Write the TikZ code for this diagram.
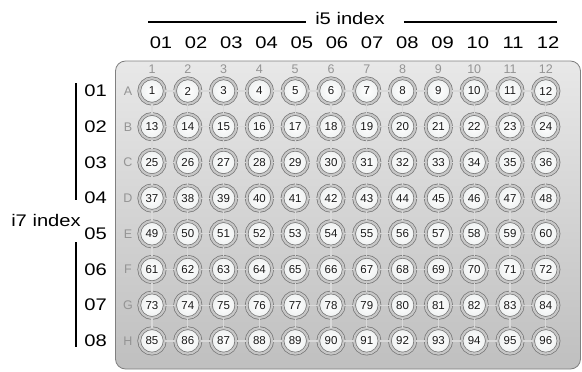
\documentclass[tikz,border=0pt]{standalone}
\usepackage{fontspec}
\setmainfont{Liberation Sans}
\newfontfamily\lblfont[FakeStretch=1.2]{Liberation Sans}
\usetikzlibrary{positioning,calc}

\begin{document}
\begin{tikzpicture}[x=1pt, y=-1pt,
  hdr/.style={font=\lblfont\fontsize{16.8}{18}\selectfont, inner sep=1pt},
  pl/.style={font=\fontsize{12.5}{12}\selectfont, text=black!42, inner sep=0pt},
  well/.style={circle, minimum size=25.5pt, inner sep=0pt, draw=black!55, double=black!22, double distance=2.2pt, line width=0.7pt, inner color=white, outer color=cyan!14!black!7, font=\fontsize{11.5}{12}\selectfont, text=black!90},
  link/.style={draw=white!85!black, line width=1.2pt},
  bar/.style={line width=1.1pt}
]
\useasboundingbox (0,0) rectangle (582,372);

% plate
\node[draw=black!50, line width=0.8pt, rounded corners=10pt, top color=black!9, bottom color=black!25, minimum width=465pt, minimum height=308pt, inner sep=0pt] (plate) at (348,215) {};

% i5 index
\node[hdr, inner sep=0pt] (i5) at (350,18.5) {i5 index};
\coordinate (i5l) at (148,22);
\coordinate (i5r) at (557,22);
\draw[bar] (i5l) -- ($(i5.west |- i5l)+(-9,0)$);
\draw[bar] ($(i5.east |- i5r)+(19,0)$) -- (i5r);

% i7 index
\node[hdr, inner sep=0pt] (i7) at (46,220) {i7 index};
\coordinate (i7a) at (76,83);
\coordinate (i7b) at (76,200);
\coordinate (i7c) at (76,242);
\coordinate (i7d) at (76,347);
\draw[bar] (i7a) -- (i7b);
\draw[bar] (i7c) -- (i7d);

% column headers and plate numbers
\foreach \c in {1,...,12} {
  \pgfmathsetmacro\cx{152+35.8*(\c-1)}
  \pgfmathsetmacro\hx{161+35.2*(\c-1)}
  \node[hdr] (col\c) at (\hx,43) {\ifnum\c<10 0\fi\c};
  \node[pl] (num\c) at (\cx,69.5) {\c};
}

% row headers, letters and wells
\foreach \r/\l in {1/A,2/B,3/C,4/D,5/E,6/F,7/G,8/H} {
  \pgfmathsetmacro\ry{91+35.7*(\r-1)}
  \node[hdr, anchor=east] (row\r) at (108,\ry) {0\r};
  \node[pl] (let\r) at (128,\ry) {\l};
  \foreach \c in {1,...,12} {
    \pgfmathsetmacro\cx{152+35.8*(\c-1)}
    \pgfmathtruncatemacro\n{(\r-1)*12+\c}
    \node[well] (w-\r-\c) at (\cx,\ry) {\n};
  }
}

% links between wells
\foreach \r in {1,...,8} {
  \foreach \c [evaluate=\c as \nc using int(\c+1)] in {1,...,11} {
    \draw[link] (w-\r-\c) -- (w-\r-\nc);
  }
}
\foreach \r [evaluate=\r as \nr using int(\r+1)] in {1,...,7} {
  \foreach \c in {1,...,12} {
    \draw[link] (w-\r-\c) -- (w-\nr-\c);
  }
}
\end{tikzpicture}
\end{document}
